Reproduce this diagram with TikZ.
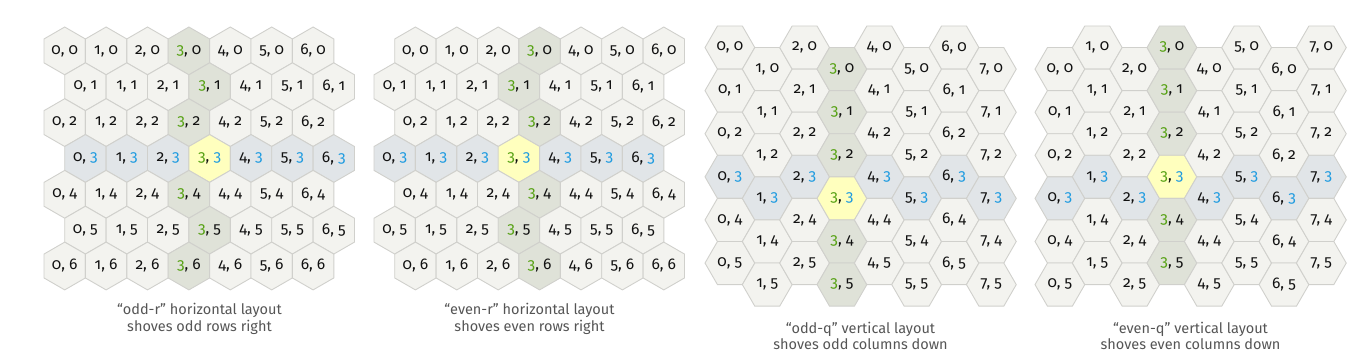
\documentclass[tikz,border=0pt]{standalone}
\usepackage{fontspec}
\setmainfont{Fira Sans}[Numbers=OldStyle]
\usetikzlibrary{shapes.geometric}
\definecolor{hbase}{HTML}{F3F3EF}
\definecolor{hgcol}{HTML}{DFE2D8}
\definecolor{hbrow}{HTML}{E1E5E8}
\definecolor{hyel}{HTML}{FFFFBE}
\definecolor{hstroke}{HTML}{D0D0CC}
\definecolor{hgreen}{HTML}{55A112}
\definecolor{hblue}{HTML}{1E9BE0}
\definecolor{htext}{HTML}{111111}
\definecolor{hcap}{HTML}{555555}
\newcommand\hexlab[2]{\ifnum#1=3 \textcolor{hgreen}{3}\else #1\fi, \ifnum#2=3 \textcolor{hblue}{3}\else #2\fi}
\newcommand\hexfillset[2]{\ifnum#1=3 \ifnum#2=3 \def\hf{hyel}\else\def\hf{hgcol}\fi\else\ifnum#2=3 \def\hf{hbrow}\else\def\hf{hbase}\fi\fi}
\begin{document}
\begin{tikzpicture}[x=1pt,y=-1pt,
  hexbase/.style={regular polygon, regular polygon sides=6, draw=hstroke, line width=0.9pt,
    inner sep=0pt, outer sep=0pt, text=htext, font=\fontsize{15.5}{15.5}\selectfont},
  hexp/.style={hexbase, shape border rotate=30, minimum size=47.8pt},
  hexf/.style={hexbase, minimum size=49.8pt},
  caption/.style={align=center, text=hcap, font=\fontsize{14.5}{16.5}\selectfont}]
\useasboundingbox (0,0) rectangle (1366,360);
% odd-r
\foreach \r in {0,...,6}{\foreach \c in {0,...,6}{
  \pgfmathsetmacro\hx{64.7+41.4*\c+20.7*mod(\r,2)}
  \pgfmathsetmacro\hy{50.9+35.85*\r}
  \hexfillset{\c}{\r}
  \node[hexp, fill=\hf] (or-\c-\r) at (\hx,\hy) {\hexlab{\c}{\r}};
}}
% even-r
\foreach \r in {0,...,6}{\foreach \c in {0,...,6}{
  \pgfmathsetmacro\hx{394.7+41.4*\c+20.7*(1-mod(\r,2))}
  \pgfmathsetmacro\hy{50.9+35.85*\r}
  \hexfillset{\c}{\r}
  \node[hexp, fill=\hf] (er-\c-\r) at (\hx,\hy) {\hexlab{\c}{\r}};
}}
% odd-q
\foreach \c in {0,...,7}{\foreach \r in {0,...,5}{
  \pgfmathsetmacro\hx{729.9+37.35*\c}
  \pgfmathsetmacro\hy{47.55+43.1*\r+21.55*mod(\c,2)}
  \hexfillset{\c}{\r}
  \node[hexf, fill=\hf] (oq-\c-\r) at (\hx,\hy) {\hexlab{\c}{\r}};
}}
% even-q
\foreach \c in {0,...,7}{\foreach \r in {0,...,5}{
  \pgfmathsetmacro\hx{1059.9+37.35*\c}
  \pgfmathsetmacro\hy{47.55+43.1*\r+21.55*(1-mod(\c,2))}
  \hexfillset{\c}{\r}
  \node[hexf, fill=\hf] (eq-\c-\r) at (\hx,\hy) {\hexlab{\c}{\r}};
}}
\node[caption] (cap1) at (199.5,319) {“odd-r” horizontal layout\\shoves odd rows right};
\node[caption] (cap2) at (529.5,319) {“even-r” horizontal layout\\shoves even rows right};
\node[caption] (cap3) at (860.5,336) {“odd-q” vertical layout\\shoves odd columns down};
\node[caption] (cap4) at (1190.5,336) {“even-q” vertical layout\\shoves even columns down};
\end{tikzpicture}
\end{document}
